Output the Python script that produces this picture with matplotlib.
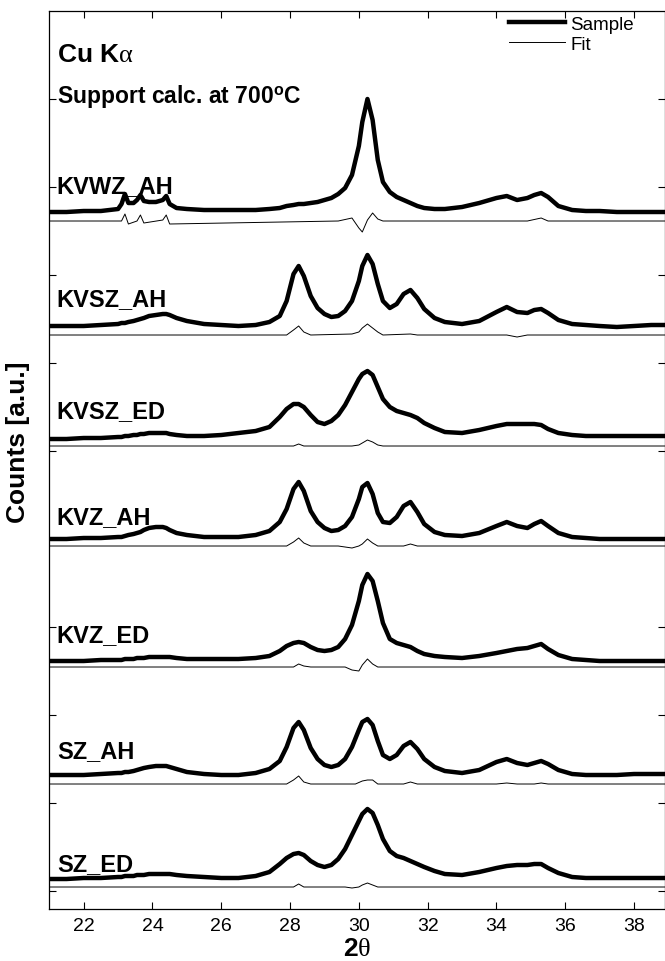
import numpy as np
import matplotlib
matplotlib.use('Agg')
import matplotlib.pyplot as plt
from matplotlib.lines import Line2D

plt.rcParams['font.family'] = ['Liberation Sans', 'DejaVu Sans']
plt.rcParams['mathtext.fontset'] = 'custom'
plt.rcParams['mathtext.rm'] = 'Liberation Serif'
plt.rcParams['mathtext.bf'] = 'Liberation Sans:bold'
plt.rcParams['mathtext.it'] = 'Liberation Serif:italic'
plt.rcParams['mathtext.sf'] = 'Liberation Sans'

# ---------------- data ----------------
two_theta = [21.0, 21.5, 22.0, 22.5, 23.0,
             23.1, 23.2, 23.3, 23.45, 23.55,
             23.65, 23.75, 23.9, 24.1, 24.3,
             24.4, 24.5, 24.7, 25.0, 25.5,
             26.0, 26.5, 27.0, 27.4, 27.7,
             27.9, 28.1, 28.25, 28.4, 28.6,
             28.8, 29.0, 29.2, 29.4, 29.6,
             29.8, 30.0, 30.1, 30.25, 30.4,
             30.55, 30.7, 30.9, 31.1, 31.3,
             31.5, 31.7, 31.9, 32.2, 32.5,
             33.0, 33.5, 34.0, 34.3, 34.6,
             34.9, 35.1, 35.3, 35.5, 35.8,
             36.2, 36.6, 37.0, 37.5, 38.0,
             38.5, 38.9]

samples = ['KVWZ_AH', 'KVSZ_AH', 'KVSZ_ED', 'KVZ_AH', 'KVZ_ED', 'SZ_AH', 'SZ_ED']

# sample intensities (a.u., above each pattern's own background level)
kvwz_ah = [0, 0, 1, 1, 3,
           8, 18, 9, 9, 12,
           17, 11, 10, 10, 12,
           16, 8, 4, 3, 2,
           2, 2, 2, 3, 4,
           6, 7, 8, 8, 9,
           10, 12, 14, 18, 24,
           37, 66, 90, 113, 92,
           52, 30, 20, 15, 12,
           9, 6, 4, 3, 3,
           5, 9, 14, 16, 12,
           14, 17, 19, 15, 6,
           2, 1, 1, 0, 0,
           0, 0]
kvsz_ah = [0, 0, 0, 1, 2,
           3, 3, 4, 5, 6,
           7, 8, 10, 11, 12,
           12, 11, 8, 5, 2,
           1, 0, 1, 4, 10,
           25, 52, 60, 50, 30,
           18, 12, 9, 10, 15,
           25, 45, 60, 71, 62,
           42, 25, 18, 22, 32,
           36, 28, 17, 8, 4,
           2, 5, 14, 19, 14,
           13, 16, 17, 13, 6,
           2, 1, 0, -1, 0,
           1, 1]
kvsz_ed = [0, 0, 1, 1, 2,
           2, 3, 3, 4, 4,
           5, 5, 6, 6, 6,
           6, 5, 4, 3, 3,
           4, 6, 8, 12, 22,
           30, 35, 35, 32, 24,
           17, 15, 18, 24, 34,
           47, 60, 65, 68, 64,
           52, 40, 32, 28, 26,
           24, 21, 16, 11, 7,
           6, 9, 13, 15, 15,
           15, 15, 14, 10, 6,
           4, 3, 3, 3, 3,
           3, 3]
kvz_ah = [0, 0, 1, 1, 2,
          2, 3, 4, 5, 6,
          7, 9, 11, 12, 12,
          11, 9, 6, 4, 2,
          2, 2, 4, 8, 17,
          30, 50, 57, 48, 28,
          17, 11, 8, 9, 13,
          22, 40, 52, 56, 45,
          26, 17, 16, 22, 33,
          37, 27, 15, 7, 4,
          3, 6, 13, 17, 13,
          11, 15, 18, 13, 6,
          2, 1, 0, 0, 0,
          0, 0]
kvz_ed = [0, 0, 0, 1, 1,
          1, 2, 2, 2, 3,
          3, 3, 4, 4, 4,
          4, 4, 3, 2, 2,
          2, 2, 3, 5, 10,
          15, 18, 19, 18, 14,
          11, 10, 11, 14, 22,
          36, 60, 76, 87, 80,
          60, 38, 22, 18, 16,
          14, 10, 7, 5, 4,
          3, 5, 8, 10, 12,
          13, 15, 17, 12, 6,
          2, 1, 0, 0, 0,
          0, 0]
sz_ah = [0, 0, 0, 1, 2,
         2, 3, 3, 4, 5,
         6, 7, 8, 9, 9,
         9, 8, 6, 3, 1,
         0, 0, 2, 6, 14,
         28, 47, 53, 45, 27,
         16, 10, 8, 10, 16,
         28, 45, 53, 56, 50,
         34, 20, 16, 20, 29,
         33, 26, 16, 8, 4,
         2, 5, 13, 16, 12,
         10, 12, 14, 11, 5,
         1, 0, 0, 0, 1,
         1, 1]
sz_ed = [0, 0, 1, 1, 2,
         2, 3, 3, 3, 4,
         4, 4, 5, 5, 5,
         5, 5, 4, 3, 2,
         1, 1, 3, 7, 15,
         21, 25, 26, 24, 18,
         14, 12, 14, 20, 30,
         44, 58, 65, 70, 66,
         54, 40, 28, 23, 21,
         18, 15, 12, 8, 5,
         4, 7, 11, 13, 14,
         14, 15, 15, 11, 6,
         2, 1, 1, 1, 1,
         1, 1]

# fit curves (difference traces), read at the points where they deviate
fit_x_kvwz_ah = [21.0, 23.1, 23.2, 23.3, 23.55, 23.65, 23.75, 24.3, 24.4, 24.5,
                 29.4, 29.8, 30.0, 30.1, 30.25, 30.4, 30.55, 30.7, 34.9, 35.3, 35.5, 38.9]
fit_kvwz_ah = [0, 0, 7, -3, 0, 6, -2, 1, 6, -3,
               0, 3, -7, -11, 1, 8, 2, 0, 0, 3, 0, 0]
fit_x_kvsz_ah = [21.0, 27.9, 28.1, 28.25, 28.4, 28.6, 29.8, 30.0, 30.1, 30.25, 30.4, 30.55,
                 30.7, 31.5, 31.7, 34.3, 34.6, 34.9, 38.9]
fit_kvsz_ah = [0, 0, 5, 9, 3, 0, 1, 3, 7, 11, 7, 3,
               0, 1, 0, 0, -2, 0, 0]
fit_x_kvsz_ed = [21.0, 28.1, 28.25, 28.4, 29.8, 30.0, 30.1, 30.25, 30.4, 30.55, 30.7, 38.9]
fit_kvsz_ed = [0, 0, 2, 0, 0, 1, 3, 6, 4, 1, 0, 0]
fit_x_kvz_ah = [21.0, 27.9, 28.1, 28.25, 28.4, 28.6, 29.4, 29.6, 29.8, 30.0, 30.1, 30.25,
                30.4, 30.55, 31.3, 31.5, 31.7, 38.9]
fit_kvz_ah = [0, 0, 4, 8, 3, 0, 0, -1, -2, 0, 2, 7,
              3, 0, 0, 2, 0, 0]
fit_x_kvz_ed = [21.0, 28.1, 28.25, 28.4, 28.6, 29.6, 29.8, 30.0, 30.1, 30.25, 30.4, 30.55, 38.9]
fit_kvz_ed = [0, 0, 3, 1, 0, 0, -3, -4, 2, 8, 3, 0, 0]
fit_x_sz_ah = [21.0, 27.9, 28.1, 28.25, 28.4, 28.6, 29.9, 30.1, 30.25, 30.4, 30.55,
               31.3, 31.5, 31.7, 34.0, 34.3, 34.6, 35.1, 35.3, 35.5, 38.9]
fit_sz_ah = [0, 0, 4, 8, 2, 0, 0, 3, 4, 4, 0,
             0, 2, 0, 0, 1, 0, 0, 1, 0, 0]
fit_x_sz_ed = [21.0, 28.1, 28.25, 28.4, 29.6, 29.8, 30.0, 30.1, 30.25, 30.4, 30.55, 38.9]
fit_sz_ed = [0, 0, 3, 0, 0, -1, 0, 2, 4, 2, 0, 0]

sample_curves = [kvwz_ah, kvsz_ah, kvsz_ed, kvz_ah, kvz_ed, sz_ah, sz_ed]
fit_curves = [(fit_x_kvwz_ah, fit_kvwz_ah), (fit_x_kvsz_ah, fit_kvsz_ah),
              (fit_x_kvsz_ed, fit_kvsz_ed), (fit_x_kvz_ah, fit_kvz_ah),
              (fit_x_kvz_ed, fit_kvz_ed), (fit_x_sz_ah, fit_sz_ah),
              (fit_x_sz_ed, fit_sz_ed)]

x_ticks = [22, 24, 26, 28, 30, 32, 34, 36, 38]

# ---------------- layout ----------------
sample_offsets = [697, 583, 470, 370, 248, 134, 30]
fit_offsets = [688, 574, 463, 363, 242, 125, 22]
label_y = [723, 610, 498, 392, 274, 158, 45]

fig = plt.figure(figsize=(6.65, 9.62), dpi=100)
ax = fig.add_axes([0.0741, 0.05405, 0.9259, 0.93347])

tt = np.array(two_theta)
for name, curve, off, (fx, fy), foff, ly in zip(samples, sample_curves, sample_offsets,
                                                 fit_curves, fit_offsets, label_y):
    ax.plot(tt, off + np.array(curve), color='black', lw=3.2,
            solid_joinstyle='round', solid_capstyle='round')
    ax.plot(fx, foff + np.array(fy), color='black', lw=0.7)
    ax.text(21.22, ly, name, fontsize=17, fontweight='bold', va='center', ha='left')

ax.set_xlim(21, 38.9)
ax.set_ylim(0, 898)
ax.set_xticks(x_ticks)
ax.set_xticklabels([str(t) for t in x_ticks])
ax.set_yticks([18 + 88 * k for k in range(10)])
ax.set_yticklabels([])
ax.tick_params(axis='both', direction='in', top=True, right=True, length=5,
               width=0.8, labelsize=14, pad=6)
for s in ax.spines.values():
    s.set_linewidth(0.9)

ax.text(21.22, 855, r'Cu K$\mathrm{\alpha}$', fontsize=19, fontweight='bold',
        va='center', ha='left')
ax.text(21.22, 814, r'Support calc. at 700$^{\mathbf{o}}$C', fontsize=16.5,
        fontweight='bold', va='center', ha='left')

handles = [Line2D([], [], color='black', lw=3.2), Line2D([], [], color='black', lw=0.7)]
ax.legend(handles, ['Sample', 'Fit'], loc='upper right', frameon=False, fontsize=13.5,
          handlelength=3.0, handletextpad=0.3, labelspacing=0.15, borderpad=0.0,
          borderaxespad=0.0, bbox_to_anchor=(0.95, 0.995))

ax.set_xlabel(r'$\mathbf{2}\mathrm{\theta}$', fontsize=19, labelpad=1)
fig.text(18 / 665, 1 - 442 / 962, 'Counts [a.u.]', rotation=90, fontsize=19,
         fontweight='bold', ha='center', va='center')

fig.savefig('out.png', dpi=100)
